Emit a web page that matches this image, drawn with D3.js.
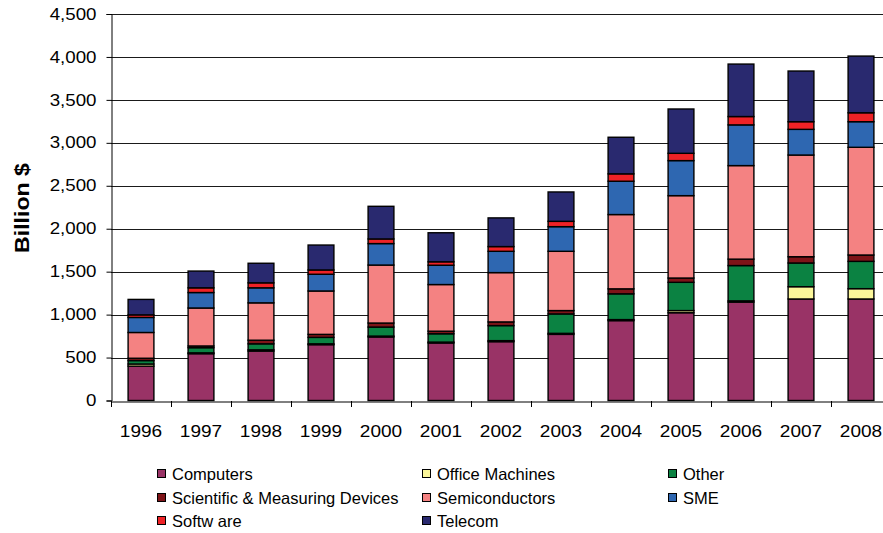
<!DOCTYPE html>
<html><head><meta charset="utf-8">
<script src="https://cdn.jsdelivr.net/npm/d3@7"></script>
<style>
html,body{margin:0;padding:0;background:#fff;}
svg{display:block;font-family:"Liberation Sans",Arial,sans-serif;}
</style></head>
<body>
<svg id="c" width="883" height="533"></svg>
<script>
const years = ["1996","1997","1998","1999","2000","2001","2002","2003","2004","2005","2006","2007","2008"];
const seriesNames = ["Computers","Office Machines","Other","Scientific & Measuring Devices","Semiconductors","SME","Software","Telecom"];
const legendLabels = ["Computers","Office Machines","Other","Scientific & Measuring Devices","Semiconductors","SME","Softw are","Telecom"];
const colors = ["#993366","#FBF69A","#0B8242","#7E1418","#F48282","#2E67B1","#EE2226","#29296F"];
const computers      = [400, 545, 575, 650, 740, 670, 685, 770, 930, 1022, 1145, 1182, 1182];
const officeMachines = [ 25,  10,  15,  10,  10,  10,  12,  12,  12,   25,   15,  143,  120];
const other          = [ 40,  60,  70,  75, 105,  97, 175, 226, 300,  329,  411,  276,  318];
const scientific     = [ 27,  20,  42,  35,  47,  30,  43,  39,  58,   50,   75,   73,   74];
const semiconductors = [300, 442, 435, 505, 675, 543, 574, 690, 865,  959, 1089, 1184, 1254];
const sme            = [175, 180, 175, 195, 250, 225, 248, 287, 388,  408,  474,  299,  298];
const software       = [ 30,  55,  58,  50,  54,  40,  55,  62,  86,   85,   97,   89,  104];
const telecom        = [180, 195, 228, 290, 380, 338, 334, 342, 426,  516,  611,  590,  660];
const yTicks = [0,500,1000,1500,2000,2500,3000,3500,4000,4500];

(function(){
const seriesValues = [computers, officeMachines, other, scientific, semiconductors, sme, software, telecom];
const table = years.map((yr,i)=>{ const o={year:yr}; seriesNames.forEach((s,j)=>o[s]=seriesValues[j][i]); return o; });
const stacked = d3.stack().keys(seriesNames)(table);

const svg = d3.select("#c");
const pL = 111, pR = 891, pT = 14, pB = 400.5;
const x = d3.scaleBand().domain(years).range([pL,pR]).paddingInner(0.57).paddingOuter(0.285);
const xb = d3.scaleBand().domain(years).range([pL,pR]);
const y = d3.scaleLinear().domain([0,4500]).range([pB,pT]);

// gridlines
svg.append("g").selectAll("line").data(yTicks.slice(1)).join("line")
  .attr("x1",pL).attr("x2",pR).attr("y1",d=>Math.round(y(d))+0.5).attr("y2",d=>Math.round(y(d))+0.5)
  .attr("stroke","#1a1a1a").attr("stroke-width",1);

// bars
svg.append("g").selectAll("g").data(stacked).join("g")
  .attr("fill",(d,i)=>colors[i])
  .selectAll("rect").data(d=>d).join("rect")
  .attr("x",d=>x(d.data.year)).attr("width",x.bandwidth())
  .attr("y",d=>y(d[1])).attr("height",d=>Math.max(0,y(d[0])-y(d[1])))
  .attr("stroke","#000").attr("stroke-width",1.4);

// y axis
const yAxis = d3.axisLeft(y).tickValues(yTicks).tickSize(5).tickPadding(9).tickFormat(d3.format(","));
const gy = svg.append("g").attr("transform",`translate(${pL+0.5},0)`).call(yAxis);
gy.select(".domain").attr("stroke","#000");
gy.selectAll(".tick line").attr("stroke","#000");
gy.selectAll("text").attr("font-size",16).attr("fill","#000").attr("font-family","Liberation Sans, Arial, sans-serif")
  .attr("transform","scale(1.17,1)").attr("x",-15/1.17);

// x axis
const xAxis = d3.axisBottom(xb).tickSize(0).tickPadding(0);
const gx = svg.append("g").attr("transform",`translate(0,${Math.round(pB)+0.5})`).call(xAxis);
gx.select(".domain").attr("stroke","#000");
gx.selectAll(".tick text").attr("font-size",17).attr("fill","#000").attr("font-family","Liberation Sans, Arial, sans-serif")
  .attr("dy",0).attr("y",36).attr("transform","scale(1.12,1)");
// band boundary ticks
svg.append("g").selectAll("line").data(years.slice(1)).join("line")
  .attr("x1",d=>Math.round(xb(d))+0.5).attr("x2",d=>Math.round(xb(d))+0.5)
  .attr("y1",Math.round(pB)).attr("y2",Math.round(pB)+6).attr("stroke","#000");
svg.append("line").attr("x1",pL+0.5).attr("x2",pL+0.5).attr("y1",Math.round(pB)).attr("y2",Math.round(pB)+6).attr("stroke","#000");

// y title
svg.append("text").attr("transform","translate(29,208) rotate(-90) scale(1.1,1)").attr("text-anchor","middle")
  .attr("font-size",21).attr("font-weight","bold").attr("fill","#000").text("Billion $");

// legend
const colX = [157,422,668];
const rowY = [474,498,521];
const lg = svg.append("g").selectAll("g").data(legendLabels).join("g")
  .attr("transform",(d,i)=>`translate(${colX[i%3]},${rowY[Math.floor(i/3)]})`);
lg.append("rect").attr("x",0.5).attr("y",-4.5).attr("width",8).attr("height",8)
  .attr("fill",(d,i)=>colors[i]).attr("stroke","#000").attr("stroke-width",1);
lg.append("text").attr("x",15).attr("dy","0.35em").attr("font-size",16.5).attr("fill","#000").text(d=>d);
})();
</script>
</body></html>
